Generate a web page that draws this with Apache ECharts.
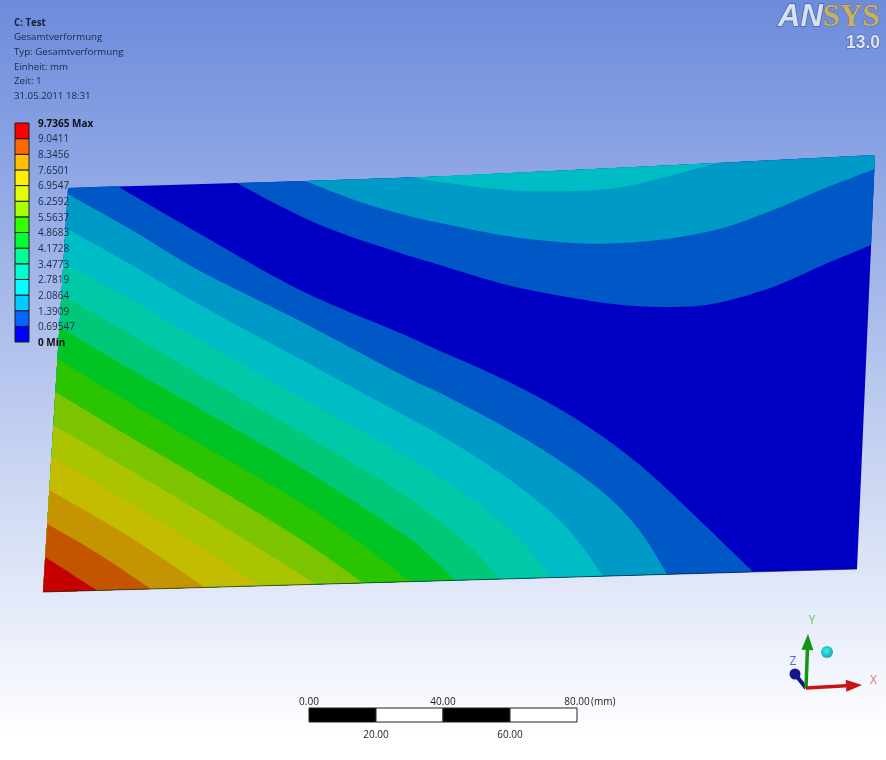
<!DOCTYPE html>
<html><head><meta charset="utf-8">
<style>html,body{margin:0;padding:0;background:#fff}#c{width:886px;height:760px}</style>
<script src="https://cdn.jsdelivr.net/npm/echarts@6/dist/echarts.min.js"></script>
</head><body><div id="c"></div>
<script>
// ---- legend values (bottom to top) and colours
const legendLevels = ['0 Min','0.69547','1.3909','2.0864','2.7819','3.4773','4.1728','4.8683','5.5637','6.2592','6.9547','7.6501','8.3456','9.0411','9.7365 Max'];
const legendColors = ['#0000ff','#0066ff','#00ccff','#00ffff','#00ffcc','#00ff99','#00ff30','#33ff00','#aaff00','#e0ff00','#fff000','#ffc000','#ff6a00','#ff0000'];
const bandColors = ['#0000c4','#0057c6','#009ac6','#00bcc4','#00c9a8','#00c878','#00c424','#2ac400','#7dc400','#aac400','#c4bc00','#c49500','#c45500','#c40000'];
// ---- plate outline in the picture's view coordinates
const plateCorners = {tl:[68,188], tr:[875,155], br:[857,569], bl:[43,592]};
const topEdge = [[237,183],[305,181],[440,176.5],[717,163]];
// ---- iso-lines: level index = upper band
const lowerContours = {
  1:[[117,186],[200,234],[300,290],[400,333],[440,351],[490,373],[540,398],[590,428],[640,465],[690,511],[753,572]],
  2:[[67.6,194],[130,229],[200,271],[300,321],[400,374],[440,393],[490,419],[540,448],[590,482],[620,508],[645,538],[667,574.4]],
  3:[[65.5,228],[130,264],[200,305],[300,359],[400,413],[440,435],[490,466],[540,503],[573,535],[603,576.2]],
  4:[[63.4,263],[130,299],[200,340],[300,397],[400,453],[440,478],[473,500],[507,527],[530,551],[550,577.7]],
  5:[[61.4,295],[130,334],[200,375],[300,432],[400,492],[440,522],[473,549],[500,579]],
  6:[[59.4,327],[130,369],[200,409],[300,467],[400,532],[430,556],[455,580.4]],
  7:[[57.4,359],[130,403],[200,444],[300,502],[360,543],[410,581.6]],
  8:[[55.4,392],[130,437],[200,478],[300,539],[363,583]],
  9:[[53.3,425],[130,470],[200,512],[300,574],[315,584.3]],
  10:[[51.4,457],[130,503],[200,547],[260,585.9]],
  11:[[49.3,490],[130,537],[205,587.4]],
  12:[[47.2,524],[97,553],[151,589]],
  13:[[45.2,557],[97,590.5]]
};
const upperContours = {
  1:[[237,183],[280,206],[330,229],[397,252],[440,265],[507,285],[573,298],[623,305],[673,307],[717,303],[773,287],[823,265],[871.1,245]],
  2:[[305,181],[363,203],[413,217],[440,223],[507,236],[573,243],[623,243],[673,238],[723,228],[773,210],[823,189],[874.4,169]],
  3:[[413,177.5],[440,182],[507,190],[573,191],[623,187],[673,175],[717,163]]
};
// ---- scale bar and triad
const scaleSegments = [[0,20,'#000'],[20,40,'#fff'],[40,60,'#000'],[60,80,'#fff']];
const triadOrigin = [806,688];
const triadTips = {x:[862,685], y:[808,634], z:[795,674]};
const triadSphere = [827,652];
const triadColors = {x:'#c81414', y:'#129612', z:'#14148c'};

// ---- rendering helpers
function spline(p){
  const out=[];
  for(let i=0;i<p.length-1;i++){
    const a=p[Math.max(i-1,0)],b=p[i],c=p[i+1],d=p[Math.min(i+2,p.length-1)];
    for(let s=0;s<10;s++){
      const t=s/10,t2=t*t,t3=t2*t;
      out.push([0,1].map(k=>0.5*(2*b[k]+(c[k]-a[k])*t+(2*a[k]-5*b[k]+4*c[k]-d[k])*t2+(3*b[k]-a[k]-3*c[k]+d[k])*t3)));
    }
  }
  out.push(p[p.length-1]);
  return out;
}
const c=plateCorners;
const regions=[{band:0,curve:[],close:[c.tl,...topEdge,c.tr,c.br,c.bl]}];
[1,2,3].forEach(k=>{
  const rest = k===1?[c.tr,[717,163],[440,176.5],[305,181]]:k===2?[c.tr,[717,163],[440,176.5]]:[];
  regions.push({band:k,curve:upperContours[k],close:rest});
});
for(let k=1;k<=13;k++){
  regions.push({band:k,curve:lowerContours[k],close:k===1?[c.bl,c.tl]:[c.bl]});
}
function renderRegion(params,api){
  const r=regions[params.dataIndex];
  const pts=[...(r.curve.length?spline(r.curve):[]),...r.close].map(p=>api.coord(p));
  return {type:'polygon',shape:{points:pts},style:{fill:bandColors[r.band]}};
}
function renderLegend(params,api){
  const i=params.dataIndex;
  const a=api.coord([0,i]),b=api.coord([1,i+1]);
  return {type:'rect',shape:{x:a[0],y:b[1],width:b[0]-a[0],height:a[1]-b[1]},
    style:{fill:legendColors[i],stroke:'#1a1a1a',lineWidth:1}};
}
function renderScale(params,api){
  const s=scaleSegments[params.dataIndex];
  const a=api.coord([s[0],0]),b=api.coord([s[1],1]);
  return {type:'rect',shape:{x:a[0],y:b[1],width:b[0]-a[0],height:a[1]-b[1]},
    style:{fill:s[2],stroke:'#222',lineWidth:1}};
}
function arrow(api,tip,color,headLen,headW,shaftW){
  const o=api.coord(triadOrigin),t=api.coord(tip);
  const dx=t[0]-o[0],dy=t[1]-o[1],L=Math.hypot(dx,dy),ux=dx/L,uy=dy/L;
  const bx=t[0]-ux*headLen,by=t[1]-uy*headLen;
  return [
    {type:'line',shape:{x1:o[0],y1:o[1],x2:bx,y2:by},style:{stroke:color,lineWidth:shaftW}},
    {type:'polygon',shape:{points:[t,[bx-uy*headW,by+ux*headW],[bx+uy*headW,by-ux*headW]]},style:{fill:color}}
  ];
}
function renderTriad(params,api){
  const z=api.coord(triadTips.z),s=api.coord(triadSphere);
  const o=api.coord(triadOrigin);
  const lab=(t,p,col)=>({type:'text',style:{text:t,x:p[0],y:p[1],fill:col,font:'12px "Open Sans"',textAlign:'center',textVerticalAlign:'middle'}});
  return {type:'group',children:[
    {type:'line',shape:{x1:o[0],y1:o[1],x2:z[0],y2:z[1]},style:{stroke:triadColors.z,lineWidth:4}},
    {type:'circle',shape:{cx:z[0],cy:z[1],r:5.5},style:{fill:triadColors.z}},
    ...arrow(api,triadTips.y,triadColors.y,16,6,3.5),
    ...arrow(api,triadTips.x,triadColors.x,16,6,3.5),
    {type:'circle',shape:{cx:s[0],cy:s[1],r:6},style:{fill:{type:'radial',x:0.45,y:0.4,r:0.7,colorStops:[{offset:0,color:'#3ff0f0'},{offset:1,color:'#0f9aa8'}]}}},
    lab('X',api.coord([873.5,681]),'#f06a6a'),
    lab('Y',api.coord([812,621]),'#62c262'),
    lab('Z',api.coord([793,662]),'#5a64e6')
  ]};
}
const textFont='"Open Sans"';
const option={
  animation:false,
  backgroundColor:{type:'linear',x:0,y:0,x2:0,y2:1,colorStops:[{offset:0,color:'#6c8bdc'},{offset:0.97,color:'#ffffff'},{offset:1,color:'#ffffff'}]},
  title:[
    {left:14,top:15.5,padding:0,text:'{b|C: Test}\n{n|Gesamtverformung}\n{n|Typ: Gesamtverformung}\n{n|Einheit: mm}\n{n|Zeit: 1}\n{n|31.05.2011 18:31}',
     textStyle:{fontWeight:'normal',rich:{
       b:{fontFamily:textFont,fontSize:9.7,fontWeight:'bold',color:'#16213c',lineHeight:14.66},
       n:{fontFamily:textFont,fontSize:9.7,fontWeight:'normal',color:'#1c2844',lineHeight:14.66}}}},
    {left:778,top:2,padding:0,text:'{a|AN}{s|SYS}',textStyle:{rich:{
       a:{fontFamily:'"Liberation Sans"',fontWeight:'bold',fontStyle:'italic',fontSize:31,color:'#d6e0f6',textBorderColor:'#4f6496',textBorderWidth:1.5},
       s:{fontFamily:'"Liberation Serif"',fontWeight:'bold',fontSize:31,color:'#c9b060',textBorderColor:'#6a6f80',textBorderWidth:1}}}},
    {left:846,top:34,padding:0,text:'13.0',textStyle:{fontFamily:'"Liberation Sans"',fontWeight:'bold',fontSize:17.5,color:'#dbe4f8',textBorderColor:'#5a6fa2',textBorderWidth:1.5}}
  ],
  grid:[
    {left:0,top:0,right:0,bottom:0},
    {left:15,top:123,width:14,height:219},
    {left:309,top:708,width:268,height:14}
  ],
  xAxis:[
    {gridIndex:0,type:'value',min:0,max:886,show:false},
    {gridIndex:1,type:'value',min:0,max:1,show:false},
    {gridIndex:2,type:'value',position:'top',min:0,max:80,interval:40,
      axisLine:{show:false},axisTick:{show:false},splitLine:{show:false},
      axisLabel:{margin:1,fontFamily:textFont,fontSize:10,color:'#222',showMinLabel:true,showMaxLabel:true,formatter:v=>v.toFixed(2)}},
    {gridIndex:2,type:'value',position:'bottom',min:0,max:80,interval:20,
      axisLine:{show:false},axisTick:{show:false},splitLine:{show:false},
      axisLabel:{margin:8,fontFamily:textFont,fontSize:10,color:'#222',formatter:v=>(v===20||v===60)?v.toFixed(2):''}}
  ],
  yAxis:[
    {gridIndex:0,type:'value',min:0,max:760,inverse:true,show:false},
    {gridIndex:1,type:'category',position:'right',data:legendLevels,boundaryGap:false,z:10,
      axisLine:{show:false},axisTick:{show:false},splitLine:{show:false},
      axisLabel:{interval:0,margin:9,padding:[2,0,0,0],hideOverlap:false,showMinLabel:true,showMaxLabel:true,fontFamily:textFont,fontSize:10,color:'#1c2844',
        formatter:v=>/M/.test(v)?'{b|'+v+'}':v,
        rich:{b:{fontFamily:textFont,fontSize:10,fontWeight:'bold',color:'#111'}}}},
    {gridIndex:2,type:'value',min:0,max:1,show:false}
  ],
  graphic:[{type:'text',left:591,top:697,style:{text:'(mm)',fill:'#222',font:'10px "Open Sans"'}}],
  series:[
    {type:'custom',xAxisIndex:0,yAxisIndex:0,clip:false,silent:true,renderItem:renderRegion,data:regions.map((r,i)=>[i])},
    {type:'line',xAxisIndex:0,yAxisIndex:0,silent:true,symbol:'none',data:[c.bl,c.br],lineStyle:{color:'rgba(0,20,30,0.6)',width:1}},
    {type:'custom',xAxisIndex:1,yAxisIndex:1,clip:false,silent:true,renderItem:renderLegend,data:legendColors.map((x,i)=>[i])},
    {type:'custom',xAxisIndex:2,yAxisIndex:2,clip:false,silent:true,renderItem:renderScale,data:scaleSegments.map((x,i)=>[i])},
    {type:'custom',xAxisIndex:0,yAxisIndex:0,clip:false,silent:true,renderItem:renderTriad,data:[[0]]}
  ]
};
echarts.init(document.getElementById('c')).setOption(option);
</script></body></html>
